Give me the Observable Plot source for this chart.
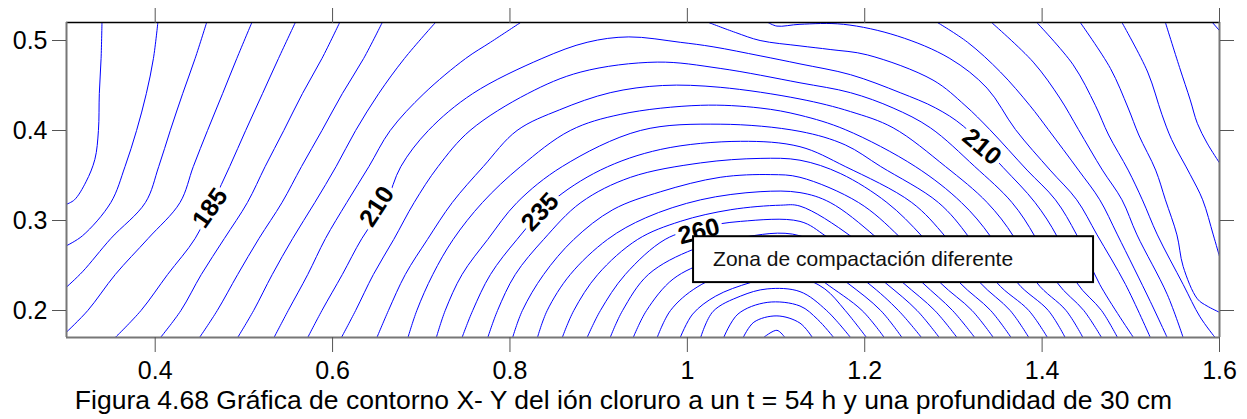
<!DOCTYPE html>
<html><head><meta charset="utf-8">
<script src="https://cdn.jsdelivr.net/npm/d3@7"></script>
<script src="https://cdn.jsdelivr.net/npm/@observablehq/plot@0.6"></script>
<style>
body{margin:0;background:#fff;font-family:"Liberation Sans",Arial,sans-serif;}
#caption{width:1247px;text-align:center;font-size:26.5px;line-height:1.15;color:#000;white-space:nowrap;}
</style></head><body>
<div id="chart"></div>
<div id="caption">Figura 4.68 Gráfica de contorno X- Y del ión cloruro a un t = 54 h y una profundidad de 30 cm</div>
<script>
// Isolines (x, y), one array per contour segment
const c165 = [[0.340,0.52],[0.339,0.48],[0.337,0.441],[0.336,0.40],[0.332,0.368],[0.322,0.343],[0.309,0.323],[0.300,0.318]];
const c165r = [[1.592,0.52],[1.600,0.511]];
const c170 = [[0.403,0.52],[0.398,0.48],[0.390,0.441],[0.379,0.40],[0.366,0.36],[0.350,0.32],[0.318,0.283],[0.300,0.272]];
const c170r = [[1.539,0.52],[1.555,0.47],[1.567,0.434],[1.575,0.408],[1.586,0.386],[1.600,0.364]];
const c175 = [[0.458,0.52],[0.445,0.48],[0.431,0.441],[0.417,0.40],[0.404,0.36],[0.389,0.32],[0.350,0.28],[0.318,0.243],[0.300,0.226]];
const c175r = [[1.490,0.52],[1.519,0.465],[1.535,0.418],[1.546,0.390],[1.567,0.351],[1.581,0.323],[1.593,0.284],[1.600,0.26]];
const c180 = [[0.509,0.52],[0.492,0.48],[0.476,0.441],[0.459,0.40],[0.443,0.36],[0.428,0.32],[0.392,0.28],[0.355,0.24],[0.324,0.20],[0.300,0.176]];
const c180r = [[1.443,0.52],[1.477,0.469],[1.497,0.425],[1.509,0.395],[1.528,0.356],[1.539,0.323],[1.552,0.284],[1.559,0.249],[1.575,0.213],[1.586,0.205],[1.600,0.198]];
const c185 = [[0.558,0.52],[0.539,0.48],[0.521,0.441],[0.502,0.40],[0.484,0.36],[0.465,0.32],[0.445,0.28],[0.414,0.24],[0.384,0.20],[0.355,0.17]];
const c185r = [[1.394,0.52],[1.435,0.473],[1.460,0.428],[1.475,0.395],[1.497,0.356],[1.513,0.323],[1.530,0.284],[1.559,0.229],[1.578,0.193],[1.595,0.17]];
const c190 = [[0.608,0.52],[0.588,0.48],[0.566,0.441],[0.545,0.40],[0.524,0.36],[0.504,0.32],[0.478,0.28],[0.452,0.24],[0.429,0.20],[0.406,0.17]];
const c190r = [[1.343,0.52],[1.390,0.476],[1.420,0.436],[1.441,0.401],[1.468,0.356],[1.490,0.323],[1.507,0.284],[1.541,0.218],[1.559,0.17]];
const c195 = [[0.656,0.52],[0.635,0.48],[0.611,0.441],[0.588,0.40],[0.565,0.36],[0.543,0.32],[0.517,0.28],[0.493,0.24],[0.470,0.20],[0.450,0.17]];
const c195r = [[1.282,0.52],[1.316,0.498],[1.353,0.465],[1.386,0.428],[1.407,0.401],[1.441,0.356],[1.465,0.323],[1.485,0.284],[1.522,0.21],[1.541,0.17]];
const c200 = [[0.716,0.52],[0.681,0.48],[0.652,0.441],[0.626,0.40],[0.604,0.36],[0.580,0.32],[0.555,0.28],[0.532,0.24],[0.511,0.20],[0.493,0.17]];
const c200r = [[1.091,0.52],[1.101,0.516],[1.127,0.518],[1.176,0.518],[1.237,0.505],[1.296,0.48],[1.338,0.447],[1.370,0.401],[1.409,0.356],[1.439,0.323],[1.462,0.284],[1.494,0.229],[1.522,0.17]];
const c205 = [[0.812,0.52],[0.778,0.498],[0.750,0.48],[0.703,0.441],[0.665,0.40],[0.641,0.36],[0.616,0.32],[0.592,0.28],[0.572,0.24],[0.550,0.20],[0.534,0.17]];
const c205r = [[1.024,0.52],[1.054,0.509],[1.082,0.50],[1.127,0.494],[1.161,0.49],[1.203,0.484],[1.277,0.456],[1.313,0.428],[1.341,0.401],[1.383,0.356],[1.415,0.323],[1.439,0.284],[1.465,0.229],[1.503,0.17]];
const c210 = [[0.572,0.17],[0.588,0.20],[0.611,0.24],[0.633,0.28],[0.660,0.32],[0.677,0.36],[0.708,0.40],[0.758,0.441],[0.836,0.48],[0.887,0.498],[0.934,0.504],[0.992,0.498],[1.029,0.493],[1.082,0.483],[1.127,0.474],[1.184,0.462],[1.240,0.442],[1.280,0.425],[1.311,0.405],[1.356,0.359],[1.392,0.320],[1.417,0.282],[1.439,0.231],[1.467,0.20],[1.485,0.17]];
const c215 = [[0.610,0.17],[0.626,0.20],[0.646,0.24],[0.669,0.279],[0.692,0.32],[0.719,0.36],[0.755,0.40],[0.820,0.441],[0.880,0.465],[0.966,0.476],[1.037,0.469],[1.127,0.453],[1.184,0.442],[1.232,0.425],[1.274,0.403],[1.324,0.36],[1.366,0.32],[1.392,0.282],[1.417,0.231],[1.447,0.20],[1.467,0.17]];
const c220 = [[0.650,0.17],[0.663,0.20],[0.682,0.24],[0.707,0.279],[0.735,0.32],[0.770,0.36],[0.808,0.40],[0.856,0.423],[0.913,0.442],[0.972,0.450],[1.037,0.448],[1.127,0.435],[1.184,0.421],[1.232,0.403],[1.291,0.36],[1.338,0.32],[1.368,0.282],[1.394,0.231],[1.427,0.20],[1.446,0.17]];
const c225 = [[0.685,0.17],[0.695,0.20],[0.713,0.24],[0.736,0.279],[0.769,0.32],[0.812,0.36],[0.868,0.40],[0.925,0.418],[1.015,0.428],[1.082,0.425],[1.127,0.417],[1.178,0.401],[1.257,0.36],[1.309,0.32],[1.342,0.282],[1.372,0.231],[1.407,0.20],[1.426,0.17]];
const c230 = [[0.717,0.17],[0.727,0.20],[0.746,0.24],[0.775,0.279],[0.808,0.32],[0.859,0.36],[0.947,0.40],[1.037,0.407],[1.127,0.399],[1.178,0.384],[1.218,0.36],[1.283,0.32],[1.317,0.282],[1.349,0.231],[1.385,0.20],[1.406,0.17]];
const c235 = [[0.746,0.17],[0.758,0.20],[0.778,0.24],[0.808,0.279],[0.846,0.32],[0.902,0.356],[0.970,0.379],[1.060,0.388],[1.127,0.382],[1.178,0.36],[1.253,0.32],[1.291,0.282],[1.330,0.231],[1.364,0.20],[1.385,0.17]];
const c240 = [[0.775,0.17],[0.786,0.20],[0.806,0.24],[0.838,0.279],[0.880,0.32],[0.936,0.348],[1.015,0.364],[1.082,0.369],[1.127,0.367],[1.173,0.352],[1.225,0.32],[1.265,0.282],[1.307,0.231],[1.342,0.20],[1.365,0.17]];
const c245 = [[0.803,0.17],[0.814,0.20],[0.838,0.24],[0.872,0.279],[0.916,0.312],[0.970,0.332],[1.037,0.348],[1.094,0.351],[1.127,0.348],[1.193,0.32],[1.239,0.282],[1.285,0.231],[1.321,0.20],[1.345,0.17]];
const c250 = [[0.831,0.17],[0.842,0.20],[0.868,0.24],[0.910,0.279],[0.953,0.303],[1.015,0.323],[1.082,0.332],[1.127,0.331],[1.161,0.32],[1.212,0.282],[1.265,0.231],[1.299,0.20],[1.324,0.17]];
const c255 = [[0.859,0.17],[0.872,0.20],[0.899,0.24],[0.944,0.279],[0.992,0.299],[1.049,0.312],[1.105,0.317],[1.127,0.316],[1.185,0.282],[1.243,0.231],[1.279,0.20],[1.304,0.17]];
const c260 = [[0.887,0.17],[0.902,0.20],[0.930,0.24],[0.975,0.279],[1.015,0.292],[1.060,0.299],[1.127,0.299],[1.157,0.282],[1.223,0.231],[1.259,0.20],[1.284,0.17]];
const c265 = [[0.913,0.17],[0.927,0.20],[0.956,0.24],[1.007,0.268],[1.060,0.281],[1.127,0.283],[1.203,0.231],[1.238,0.20],[1.264,0.17]];
const c270 = [[0.939,0.17],[0.954,0.20],[0.984,0.235],[1.026,0.255],[1.082,0.267],[1.127,0.268],[1.180,0.231],[1.218,0.20],[1.242,0.17]];
const c275 = [[0.966,0.17],[0.981,0.20],[1.011,0.226],[1.060,0.246],[1.127,0.252],[1.155,0.231],[1.197,0.20],[1.222,0.17]];
const c280 = [[0.992,0.17],[1.006,0.196],[1.032,0.216],[1.071,0.231],[1.103,0.238],[1.127,0.237],[1.155,0.224],[1.178,0.20],[1.202,0.17]];
const c285 = [[1.015,0.17],[1.029,0.199],[1.060,0.216],[1.090,0.224],[1.127,0.221],[1.157,0.20],[1.184,0.17]];
const c290 = [[1.041,0.17],[1.057,0.196],[1.090,0.209],[1.127,0.205],[1.147,0.19],[1.165,0.17]];
const c295 = [[1.063,0.17],[1.075,0.187],[1.101,0.194],[1.127,0.186],[1.141,0.17]];
const c300 = [[1.086,0.17],[1.101,0.178],[1.110,0.17]];

const isolines = [
  ["165a", c165], ["165b", c165r], ["170a", c170], ["170b", c170r],
  ["175a", c175], ["175b", c175r], ["180a", c180], ["180b", c180r],
  ["185a", c185], ["185b", c185r], ["190a", c190], ["190b", c190r],
  ["195a", c195], ["195b", c195r], ["200a", c200], ["200b", c200r],
  ["205a", c205], ["205b", c205r], ["210", c210], ["215", c215],
  ["220", c220], ["225", c225], ["230", c230], ["235", c235],
  ["240", c240], ["245", c245], ["250", c250], ["255", c255],
  ["260", c260], ["265", c265], ["270", c270], ["275", c275],
  ["280", c280], ["285", c285], ["290", c290], ["295", c295], ["300", c300]
];

// Contour labels
const labelText = ["185", "210", "235", "260", "210"];
const labelX = [0.462, 0.650, 0.834, 1.013, 1.332];
const labelY = [0.3138, 0.3155, 0.3094, 0.2878, 0.3819];
const labelAngle = [-55, -57, -47, -15, 40];

// Annotation box
const noteText = ["Zona de compactación diferente"];
const noteX = [1.007, 1.458];
const noteY = [0.231, 0.282];

// Axes
const xTicks = [0.4, 0.6, 0.8, 1, 1.2, 1.4, 1.6];
const yTicks = [0.2, 0.3, 0.4, 0.5];
const xDomain = [0.3, 1.6];
const yDomain = [0.17, 0.52];

const rows = isolines.flatMap(([id, pts]) => pts.map(([x, y]) => ({id, x, y})));
const labels = labelText.map((t, i) => ({t, x: labelX[i], y: labelY[i], r: labelAngle[i]}));
const box = [{x1: noteX[0], x2: noteX[1], y1: noteY[0], y2: noteY[1]}];
const note = [{t: noteText[0], x: noteX[0] + 0.022, y: (noteY[0] + noteY[1]) / 2}];

const chart = Plot.plot({
  width: 1247, height: 385,
  marginTop: 22, marginLeft: 66, marginRight: 28, marginBottom: 48,
  style: {fontFamily: '"Liberation Sans", Arial, sans-serif', background: "white", color: "black", overflow: "visible"},
  x: {domain: xDomain},
  y: {domain: yDomain},
  marks: [
    Plot.line(rows, {x: "x", y: "y", z: "id", stroke: "#0000ff", strokeWidth: 1, curve: "catmull-rom", clip: true}),
    Plot.text(labels, {x: "x", y: "y", text: "t", rotate: "r", fontSize: 25, fontWeight: "bold", fill: "black", stroke: "white", strokeWidth: 8, paintOrder: "stroke", strokeLinejoin: "round"}),
    Plot.rect(box, {x1: "x1", x2: "x2", y1: "y1", y2: "y2", fill: "white", stroke: "black", strokeWidth: 2}),
    Plot.text(note, {x: "x", y: "y", text: "t", textAnchor: "start", fontSize: 21, fill: "#111"}),
    Plot.ruleY([yDomain[1]], {stroke: "black", strokeWidth: 1.5}),
    Plot.ruleY([yDomain[0]], {stroke: "#777", strokeWidth: 2}),
    Plot.ruleX([xDomain[0]], {stroke: "#777", strokeWidth: 2}),
    Plot.ruleX([xDomain[1]], {stroke: "#777", strokeWidth: 2}),
    Plot.axisX(xTicks, {anchor: "bottom", tickSize: 15, tickPadding: 9, fontSize: 25, tickFormat: d => String(d), label: null, stroke: "#555", fill: "black"}),
    Plot.axisX(xTicks, {anchor: "top", tickSize: 15, tickFormat: () => "", label: null, stroke: "#555"}),
    Plot.axisY(yTicks, {anchor: "left", tickSize: 14, tickPadding: 5, fontSize: 25, tickFormat: d => String(d), label: null, stroke: "#555", fill: "black"}),
    Plot.axisY(yTicks, {anchor: "right", tickSize: 14, tickFormat: () => "", label: null, stroke: "#555"})
  ]
});
document.getElementById("chart").appendChild(chart);
</script>
</body></html>
